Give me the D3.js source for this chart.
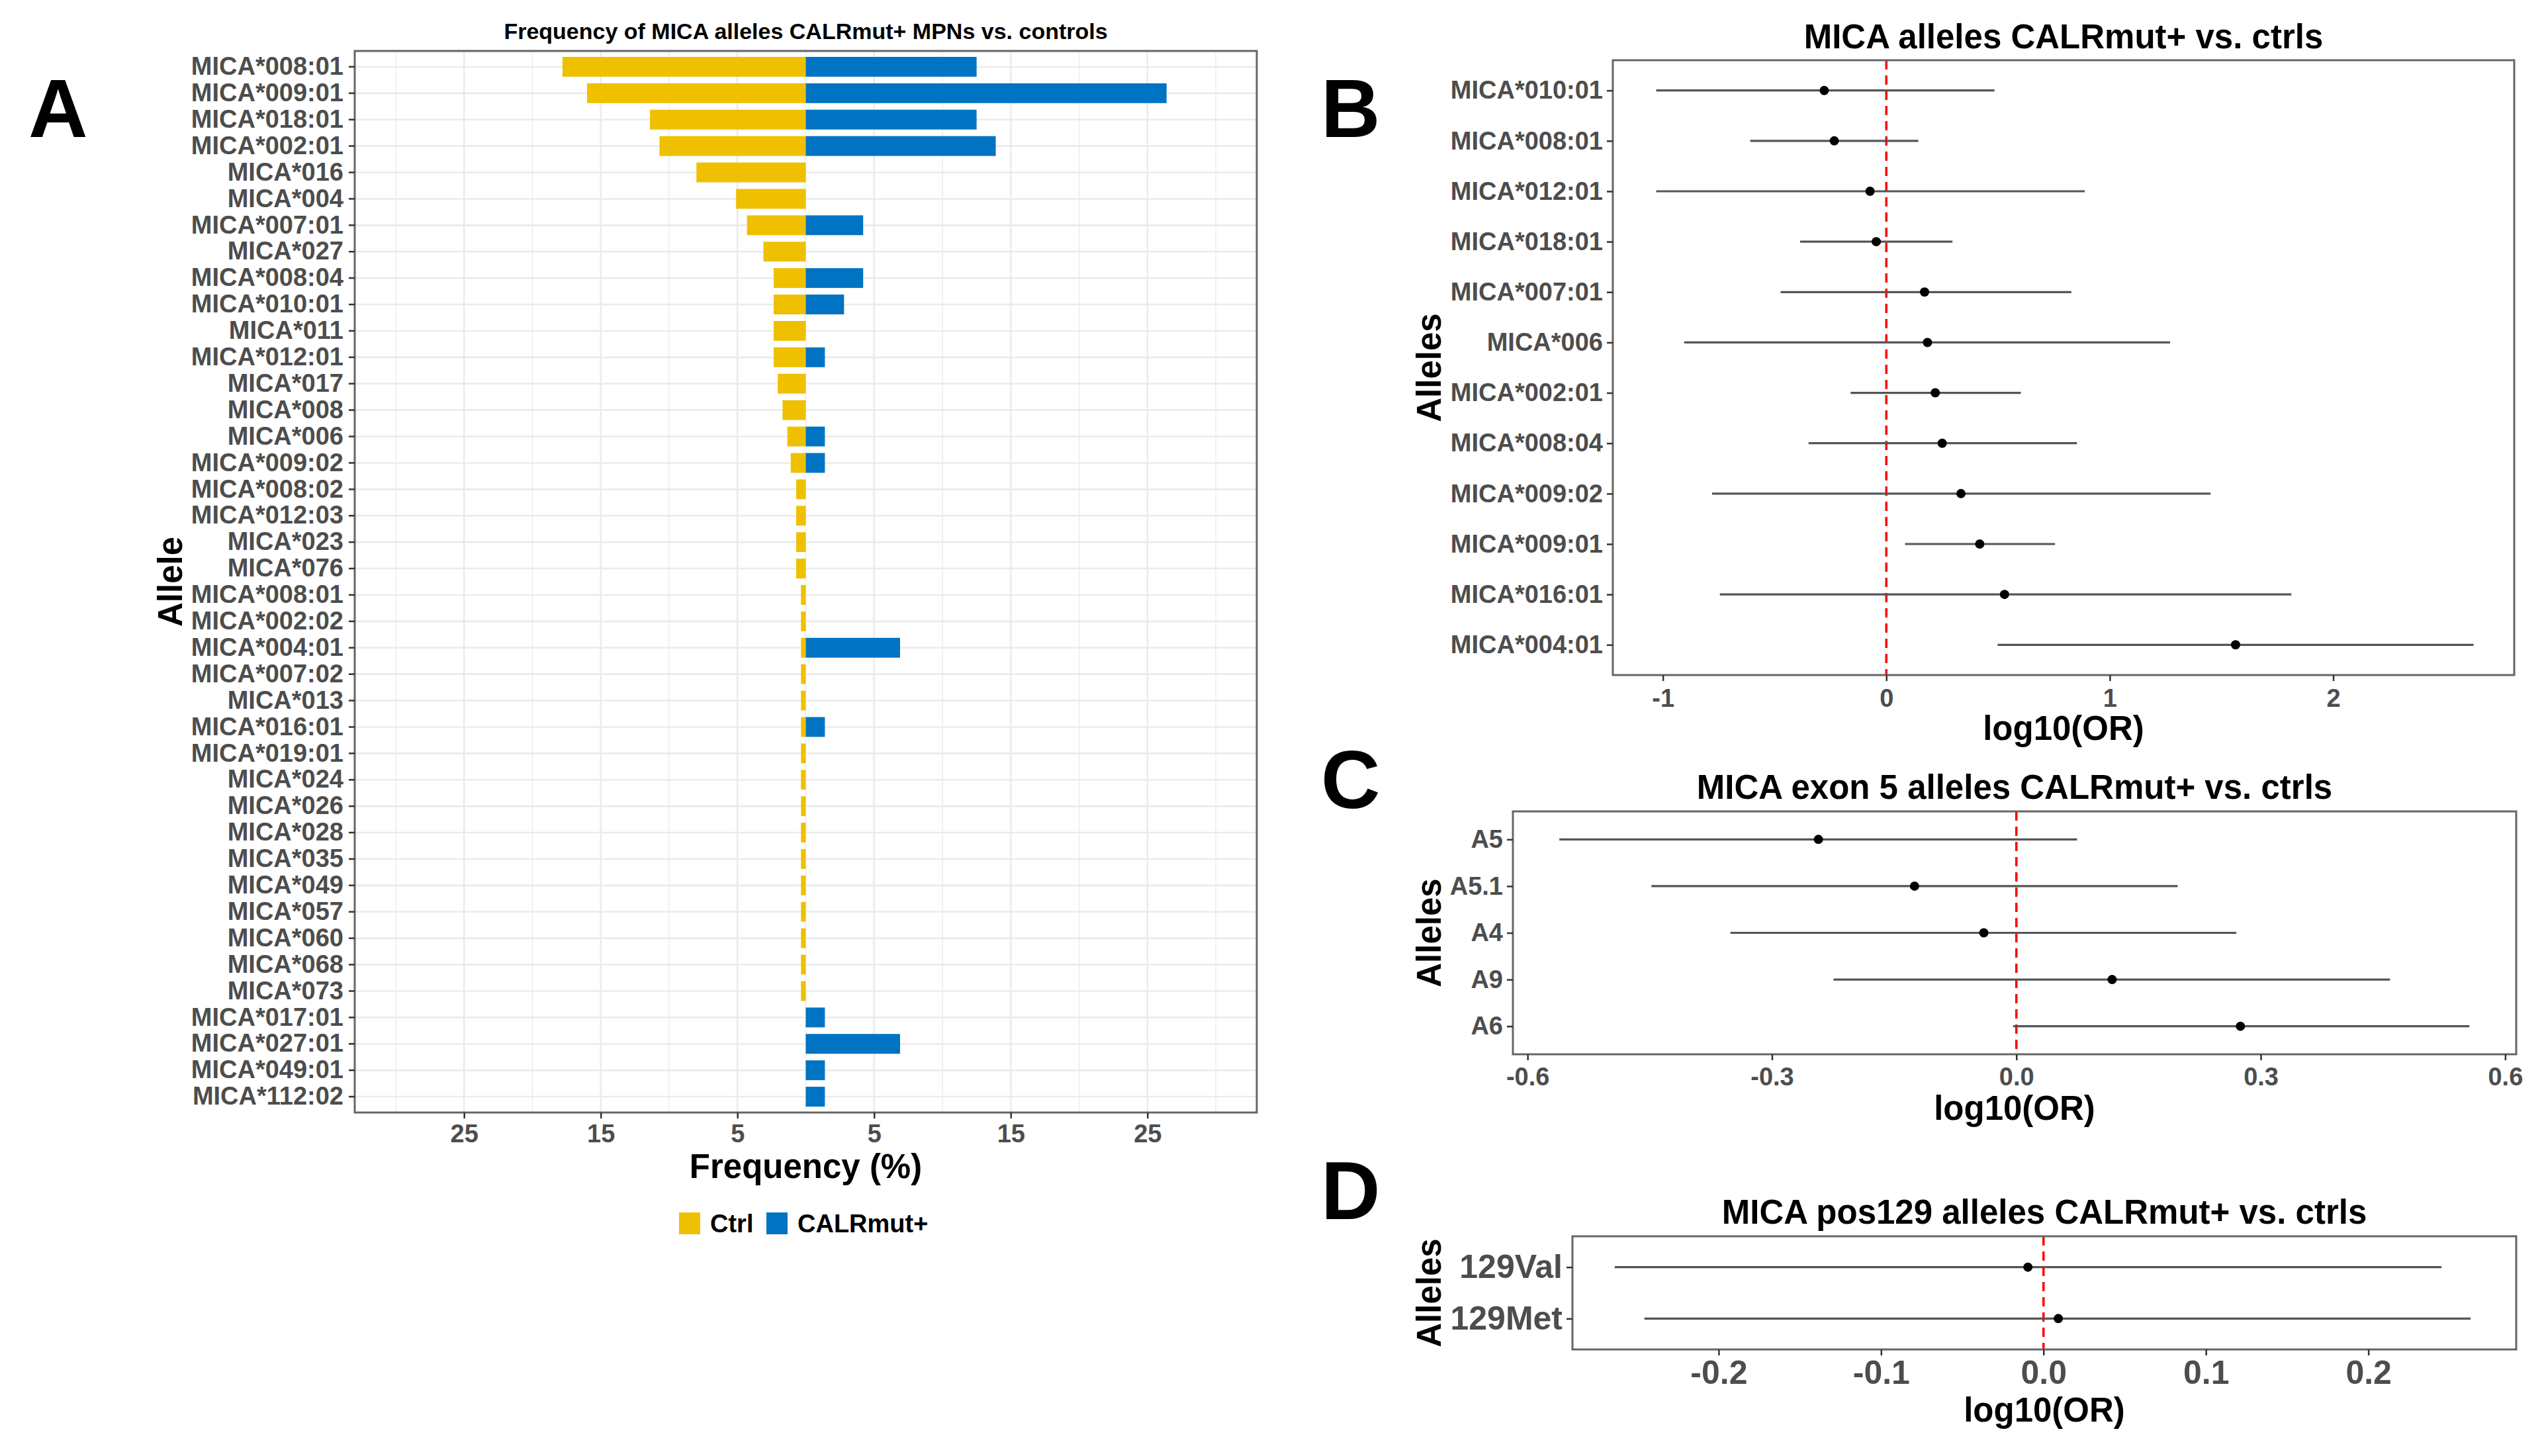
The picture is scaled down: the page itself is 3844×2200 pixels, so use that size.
<!DOCTYPE html>
<html><head><meta charset="utf-8">
<script src="https://cdn.jsdelivr.net/npm/d3@7"></script>
<style>
body{margin:0;background:#fff}
text{font-family:"Liberation Sans",Arial,Helvetica,sans-serif;font-weight:bold}
</style>
</head><body>
<svg id="c" width="3844" height="2200" xmlns="http://www.w3.org/2000/svg"></svg>
<script>
// ---------- Panel A data ----------
const allelesA = ["MICA*008:01","MICA*009:01","MICA*018:01","MICA*002:01","MICA*016","MICA*004","MICA*007:01","MICA*027","MICA*008:04","MICA*010:01","MICA*011","MICA*012:01","MICA*017","MICA*008","MICA*006","MICA*009:02","MICA*008:02","MICA*012:03","MICA*023","MICA*076","MICA*008:01","MICA*002:02","MICA*004:01","MICA*007:02","MICA*013","MICA*016:01","MICA*019:01","MICA*024","MICA*026","MICA*028","MICA*035","MICA*049","MICA*057","MICA*060","MICA*068","MICA*073","MICA*017:01","MICA*027:01","MICA*049:01","MICA*112:02"];
const ctrlFreq = [17.8,16.0,11.4,10.7,8.0,5.1,4.3,3.1,2.35,2.35,2.35,2.35,2.05,1.7,1.35,1.1,0.7,0.7,0.7,0.7,0.35,0.35,0.35,0.35,0.35,0.35,0.35,0.35,0.35,0.35,0.35,0.35,0.35,0.35,0.35,0.35,0,0,0,0];
const calrFreq = [12.5,26.4,12.5,13.9,0,0,4.2,0,4.2,2.8,0,1.4,0,0,1.4,1.4,0,0,0,0,0,0,6.9,0,0,1.4,0,0,0,0,0,0,0,0,0,0,1.4,6.9,1.4,1.4];
const freqTicks = [-25,-15,-5,5,15,25];
const freqGrid = [-30,-25,-20,-15,-10,-5,0,5,10,15,20,25,30];
const legendLabels = ["Ctrl","CALRmut+"];

// ---------- Panel B data ----------
const allelesB = ["MICA*010:01","MICA*008:01","MICA*012:01","MICA*018:01","MICA*007:01","MICA*006","MICA*002:01","MICA*008:04","MICA*009:02","MICA*009:01","MICA*016:01","MICA*004:01"];
const orB = [-0.278,-0.233,-0.073,-0.045,0.171,0.184,0.219,0.250,0.334,0.418,0.529,1.563];
const loB = [-1.03,-0.609,-1.03,-0.386,-0.473,-0.905,-0.16,-0.348,-0.78,0.084,-0.745,0.498];
const hiB = [0.484,0.143,0.888,0.296,0.828,1.27,0.602,0.853,1.451,0.755,1.813,2.628];
const ticksB = [-1,0,1,2];

// ---------- Panel C data ----------
const allelesC = ["A5","A5.1","A4","A9","A6"];
const orC = [-0.243,-0.125,-0.040,0.1175,0.275];
const loC = [-0.561,-0.448,-0.351,-0.2245,-0.004];
const hiC = [0.0745,0.198,0.270,0.4586,0.556];
const ticksC = [-0.6,-0.3,0.0,0.3,0.6];

// ---------- Panel D data ----------
const allelesD = ["129Val","129Met"];
const orD = [-0.0096,0.0091];
const loD = [-0.264,-0.2457];
const hiD = [0.245,0.263];
const ticksD = [-0.2,-0.1,0.0,0.1,0.2];

const COL_CTRL = "#EFC000", COL_CALR = "#0073C2";
const TICK_COL = "#4D4D4D";
const svg = d3.select("#c");
const hy = s => s.replace("\u2212","-");

// ================= Panel A =================
(function(){
  const L=536,R=1899,T=77,B=1681;
  const x = d3.scaleLinear().domain([-33,33]).range([L,R]);
  const idx = d3.range(allelesA.length);
  const y = d3.scaleBand().domain(idx).range([T,B]).paddingInner(0.25).paddingOuter(0.225);
  const yc = i => y(i)+y.bandwidth()/2;
  const g = svg.append("g");
  g.selectAll(".vg").data(freqGrid).join("line")
    .attr("x1",d=>x(d)).attr("x2",d=>x(d)).attr("y1",T).attr("y2",B)
    .attr("stroke","#EBEBEB").attr("stroke-width",d=>freqTicks.includes(d)?2.6:1.4);
  g.selectAll(".hg").data(idx).join("line")
    .attr("x1",L).attr("x2",R).attr("y1",yc).attr("y2",yc)
    .attr("stroke","#EBEBEB").attr("stroke-width",2.6);
  g.selectAll(".bc").data(idx).join("rect")
    .attr("x",i=>x(-ctrlFreq[i])).attr("width",i=>x(0)-x(-ctrlFreq[i]))
    .attr("y",i=>y(i)).attr("height",y.bandwidth()).attr("fill",COL_CTRL);
  g.selectAll(".bk").data(idx).join("rect")
    .attr("x",x(0)).attr("width",i=>x(calrFreq[i])-x(0))
    .attr("y",i=>y(i)).attr("height",y.bandwidth()).attr("fill",COL_CALR);
  g.append("rect").attr("x",L).attr("y",T).attr("width",R-L).attr("height",B-T)
    .attr("fill","none").attr("stroke","#666").attr("stroke-width",3);
  const ya = g.append("g").attr("transform",`translate(${L},0)`)
    .call(d3.axisLeft(y).tickFormat(i=>allelesA[i]).tickSize(9).tickPadding(8));
  ya.select(".domain").remove();
  ya.selectAll("line").attr("stroke","#333").attr("stroke-width",2.5);
  ya.selectAll("text").attr("fill",TICK_COL).style("font-size","38px");
  const xa = g.append("g").attr("transform",`translate(0,${B})`)
    .call(d3.axisBottom(x).tickValues(freqTicks).tickFormat(d=>Math.abs(d)).tickSize(9));
  xa.select(".domain").remove();
  xa.selectAll("line").attr("stroke","#333").attr("stroke-width",2.5);
  xa.selectAll("text").attr("fill",TICK_COL).style("font-size","38px").attr("dy",null).attr("y",1726-B);
  g.append("text").attr("x",(L+R)/2).attr("y",59).attr("text-anchor","middle")
    .style("font-size","34px").text("Frequency of MICA alleles CALRmut+ MPNs vs. controls");
  g.append("text").attr("x",(L+R)/2).attr("y",1780).attr("text-anchor","middle")
    .style("font-size","51px").text("Frequency (%)");
  g.append("text").attr("transform",`translate(275,${(T+B)/2}) rotate(-90)`).attr("text-anchor","middle")
    .style("font-size","51px").text("Allele");
  const lg = g.append("g");
  const lx = [1026,1158], tx=[1073,1205];
  [COL_CTRL,COL_CALR].forEach((c,k)=>{
    lg.append("rect").attr("x",lx[k]).attr("y",1832).attr("width",32).attr("height",33).attr("fill",c);
    lg.append("text").attr("x",tx[k]).attr("y",1862).style("font-size","38px").text(legendLabels[k]);
  });
  svg.append("text").attr("x",43).attr("y",207).style("font-size","124px").style("font-weight","900").text("A");
})();

// ================= Forest panels =================
function forest(o){
  const {L,R,T,B,dom,cats,or,lo,hi,ticks,fmt,title,titleY,tickY,axisTitleY,tickFont,letter,letterY} = o;
  const x = d3.scaleLinear().domain(dom).range([L,R]);
  const y = d3.scalePoint().domain(d3.range(cats.length)).range([T,B]).padding(0.6);
  const g = svg.append("g");
  g.append("line").attr("x1",x(0)).attr("x2",x(0)).attr("y1",T).attr("y2",B)
    .attr("stroke","#FF0000").attr("stroke-width",3.5).attr("stroke-dasharray","14,9");
  const idx = d3.range(cats.length);
  g.selectAll(".ci").data(idx).join("line")
    .attr("x1",i=>x(lo[i])).attr("x2",i=>x(hi[i])).attr("y1",i=>y(i)).attr("y2",i=>y(i))
    .attr("stroke","#555").attr("stroke-width",3.2);
  g.selectAll(".pt").data(idx).join("circle")
    .attr("cx",i=>x(or[i])).attr("cy",i=>y(i)).attr("r",7).attr("fill","#000");
  g.append("rect").attr("x",L).attr("y",T).attr("width",R-L).attr("height",B-T)
    .attr("fill","none").attr("stroke","#666").attr("stroke-width",3);
  const ya = g.append("g").attr("transform",`translate(${L},0)`)
    .call(d3.axisLeft(y).tickFormat(i=>cats[i]).tickSize(9).tickPadding(6));
  ya.select(".domain").remove();
  ya.selectAll("line").attr("stroke","#333").attr("stroke-width",2.5);
  ya.selectAll("text").attr("fill",TICK_COL).style("font-size",tickFont+"px");
  const xa = g.append("g").attr("transform",`translate(0,${B})`)
    .call(d3.axisBottom(x).tickValues(ticks).tickFormat(d=>hy(fmt(d))).tickSize(9));
  xa.select(".domain").remove();
  xa.selectAll("line").attr("stroke","#333").attr("stroke-width",2.5);
  xa.selectAll("text").attr("fill",TICK_COL).style("font-size",tickFont+"px")
    .attr("y",tickY-B).attr("dy",null);
  g.append("text").attr("x",(L+R)/2).attr("y",titleY).attr("text-anchor","middle")
    .style("font-size","51px").text(title);
  g.append("text").attr("x",(L+R)/2).attr("y",axisTitleY).attr("text-anchor","middle")
    .style("font-size","51px").text("log10(OR)");
  g.append("text").attr("transform",`translate(2177,${(T+B)/2}) rotate(-90)`).attr("text-anchor","middle")
    .style("font-size","51px").text("Alleles");
  svg.append("text").attr("x",1996).attr("y",letterY).style("font-size","124px").style("font-weight","900").text(letter);
}

forest({L:2437,R:3799,T:91,B:1020,dom:[-1.224,2.81],cats:allelesB,or:orB,lo:loB,hi:hiB,
  ticks:ticksB,fmt:d3.format("d"),title:"MICA alleles CALRmut+ vs. ctrls",titleY:73,tickY:1068,
  axisTitleY:1118,tickFont:38,letter:"B",letterY:207});
forest({L:2286,R:3802,T:1226,B:1593,dom:[-0.618,0.6135],cats:allelesC,or:orC,lo:loC,hi:hiC,
  ticks:ticksC,fmt:d3.format(".1f"),title:"MICA exon 5 alleles CALRmut+ vs. ctrls",titleY:1207,tickY:1640,
  axisTitleY:1692,tickFont:38,letter:"C",letterY:1221});
forest({L:2376,R:3802,T:1868,B:2039,dom:[-0.290,0.291],cats:allelesD,or:orD,lo:loD,hi:hiD,
  ticks:ticksD,fmt:d3.format(".1f"),title:"MICA pos129 alleles CALRmut+ vs. ctrls",titleY:1849,tickY:2091,
  axisTitleY:2148,tickFont:50,letter:"D",letterY:1842});
</script>
</body></html>
